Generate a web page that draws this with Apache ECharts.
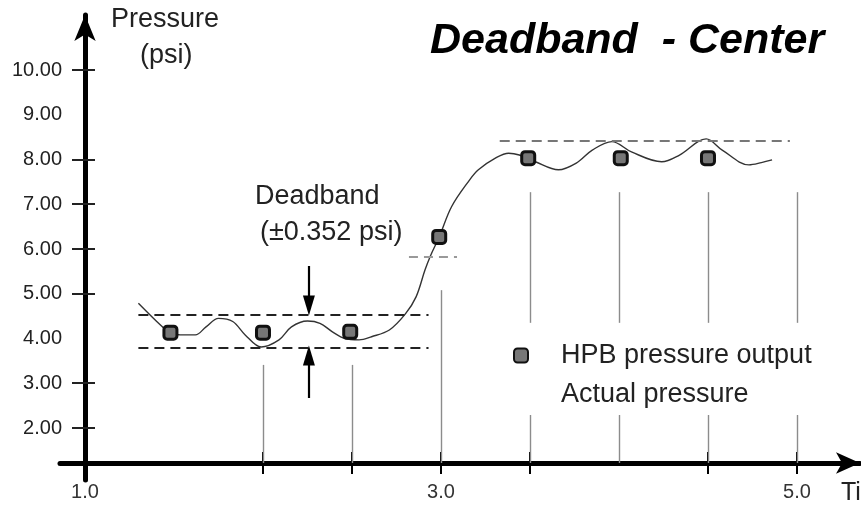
<!DOCTYPE html>
<html>
<head>
<meta charset="utf-8">
<script src="https://cdn.jsdelivr.net/npm/echarts@6/dist/echarts.min.js"></script>
<style>html,body{margin:0;padding:0;background:#fff}#c{width:861px;height:506px}</style>
</head>
<body>
<div id="c"></div>
<script>
// ---- data ----
const sampleTimes = [1.48, 2.0, 2.49, 2.99, 3.49, 4.01, 4.5];
const hpbOutput   = [4.13, 4.13, 4.15, 6.27, 8.03, 8.03, 8.03];

const actualTime = [1.30, 1.43, 1.48, 1.56, 1.62, 1.68, 1.75, 1.83, 1.90, 1.99, 2.09, 2.16, 2.25, 2.32, 2.39, 2.46, 2.54, 2.61, 2.71, 2.80, 2.86, 2.91, 2.94, 2.99, 3.06, 3.16, 3.21, 3.31, 3.38, 3.44, 3.53, 3.66, 3.76, 3.85, 3.96, 4.07, 4.24, 4.34, 4.49, 4.58, 4.73, 4.80, 4.86];
const actualPressure = [4.79, 4.28, 4.12, 4.08, 4.08, 4.26, 4.45, 4.38, 4.08, 3.81, 3.97, 4.26, 4.39, 4.34, 4.15, 4.00, 3.97, 4.04, 4.19, 4.55, 4.93, 5.53, 5.84, 6.27, 6.95, 7.54, 7.77, 8.04, 8.14, 8.10, 7.95, 7.77, 7.92, 8.21, 8.40, 8.17, 7.95, 8.10, 8.46, 8.21, 7.88, 7.93, 7.99];

const yTickLabels = [2, 3, 4, 5, 6, 7, 8, 9, 10];
const yTicks = [2, 3, 5, 6, 7, 8, 10];
const xTickLabels = [1.0, 3.0, 5.0];
const xTicks = [2.0, 2.5, 3.0, 3.5, 4.5, 5.0];

// deadband guides
const lowBandX = [1.30, 2.93];
const lowBandLimits = [3.80, 4.54];
const highBandX = [3.33, 4.96];
const highBandLimit = 8.42;
const stepMarkX = [2.82, 3.09];
const stepMarkY = 5.83;

// vertical sample lines
const sampleLineTimes = [2.0, 2.5, 3.0, 3.5, 4.0, 4.5, 5.0];
const sampleLineTops  = [3.41, 3.41, 5.08, 7.27, 7.27, 7.27, 7.27];
const sampleLineBroken = [false, false, false, true, true, true, true];
const legendGapTop = 4.35, legendGapBottom = 2.29;

// deadband arrows
const arrowX = 2.258;
const downArrow = [5.62, 4.74];
const upArrow = [2.67, 3.62];

// axis ranges
const X_MIN = 0.8596, X_MAX = 5.354;
const Y_MIN = 0.838, Y_MAX = 11.229;
const Y_BASE = 1.218;

const FONT = 'Liberation Sans';

const chart = echarts.init(document.getElementById('c'), null, {renderer: 'canvas'});

const guideLines = [];
const dashBlack = {type: [10, 6], color: '#222', width: 2.2};
lowBandLimits.forEach(v => guideLines.push([
  {coord: [lowBandX[0], v], lineStyle: dashBlack}, {coord: [lowBandX[1], v]}
]));
guideLines.push([{coord: [highBandX[0], highBandLimit], lineStyle: {type: [10, 6], color: '#777', width: 1.8}}, {coord: [highBandX[1], highBandLimit]}]);
guideLines.push([{coord: [stepMarkX[0], stepMarkY], lineStyle: {type: [9, 6], color: '#999', width: 1.8}}, {coord: [stepMarkX[1], stepMarkY]}]);
const grayLine = {type: 'solid', color: '#8c8c8c', width: 1.4};
sampleLineTimes.forEach((t, i) => {
  if (sampleLineBroken[i]) {
    guideLines.push([{coord: [t, sampleLineTops[i]], lineStyle: grayLine}, {coord: [t, legendGapTop]}]);
    guideLines.push([{coord: [t, legendGapBottom], lineStyle: grayLine}, {coord: [t, Y_BASE]}]);
  } else {
    guideLines.push([{coord: [t, sampleLineTops[i]], lineStyle: grayLine}, {coord: [t, Y_BASE]}]);
  }
});
const arrowStyle = {type: 'solid', color: '#000', width: 2.2};
guideLines.push([{coord: [arrowX, downArrow[0]], lineStyle: arrowStyle, symbol: 'none'}, {coord: [arrowX, downArrow[1]], symbol: 'triangle', symbolSize: [12, 20]}]);
guideLines.push([{coord: [arrowX, upArrow[0]], lineStyle: arrowStyle, symbol: 'none'}, {coord: [arrowX, upArrow[1]], symbol: 'triangle', symbolSize: [12, 20]}]);

const axisCommonX = {type: 'value', min: X_MIN, max: X_MAX, position: 'bottom', offset: -17, splitLine: {show: false}};
const axisCommonY = {type: 'value', min: Y_MIN, max: Y_MAX, position: 'left', offset: -25, splitLine: {show: false}};

const option = {
  animation: false,
  backgroundColor: '#fff',
  title: {
    text: 'Deadband  - Center', left: 425, top: 15,
    textStyle: {fontFamily: FONT, fontSize: 43, fontWeight: 'bold', fontStyle: 'italic', color: '#000'}
  },
  grid: {left: 60, right: 1, top: 15, bottom: 26},
  legend: {
    orient: 'vertical', left: 508, top: 337, itemWidth: 14, itemHeight: 14, itemGap: 12,
    data: [{name: 'HPB pressure output', icon: 'roundRect'}, {name: 'Actual pressure', icon: 'none'}],
    textStyle: {fontFamily: FONT, fontSize: 27, color: '#222', padding: [0, 0, 0, 28]}
  },
  xAxis: [
    Object.assign({}, axisCommonX, {
      axisLine: {show: true, onZero: false, symbol: ['none', 'arrow'], symbolSize: [16, 24], lineStyle: {color: '#000', width: 5}},
      axisTick: {show: true, customValues: xTicks, length: 11, lineStyle: {color: '#000', width: 2}},
      axisLabel: {show: true, customValues: xTickLabels, formatter: v => v.toFixed(1), margin: 19, fontFamily: FONT, fontSize: 20, color: '#333'}
    }),
    Object.assign({}, axisCommonX, {
      axisLine: {show: false, onZero: false},
      axisTick: {show: true, inside: true, customValues: xTicks, length: 11, lineStyle: {color: '#000', width: 2}},
      axisLabel: {show: false}
    })
  ],
  yAxis: [
    Object.assign({}, axisCommonY, {
      axisLine: {show: true, onZero: false, symbol: ['none', 'arrow'], symbolSize: [16, 26], lineStyle: {color: '#000', width: 5}},
      axisTick: {show: true, customValues: yTicks, length: 13, lineStyle: {color: '#222', width: 2}},
      axisLabel: {show: true, customValues: yTickLabels, formatter: v => v.toFixed(2), margin: 23, fontFamily: FONT, fontSize: 20, color: '#222'}
    }),
    Object.assign({}, axisCommonY, {
      axisLine: {show: false, onZero: false},
      axisTick: {show: true, inside: true, customValues: yTicks, length: 10, lineStyle: {color: '#222', width: 2}},
      axisLabel: {show: false}
    })
  ],
  graphic: [
    {type: 'text', left: 111, top: 6, style: {text: 'Pressure', fontFamily: FONT, fontSize: 27, fill: '#222'}},
    {type: 'text', left: 140, top: 42, style: {text: '(psi)', fontFamily: FONT, fontSize: 27, fill: '#222'}},
    {type: 'text', left: 255, top: 183, style: {text: 'Deadband', fontFamily: FONT, fontSize: 27, fill: '#222'}},
    {type: 'text', left: 260, top: 219, style: {text: '(±0.352 psi)', fontFamily: FONT, fontSize: 27, fill: '#222'}},
    {type: 'text', left: 841, top: 481, style: {text: 'Time', fontFamily: FONT, fontSize: 25, fill: '#222'}}
  ],
  series: [
    {
      name: 'guides', type: 'line', data: [], xAxisIndex: 0, yAxisIndex: 0, silent: true,
      markLine: {silent: true, symbol: ['none', 'none'], label: {show: false}, emphasis: {disabled: true}, data: guideLines}
    },
    {
      name: 'Actual pressure', type: 'line', smooth: 0.35, showSymbol: false,
      data: actualTime.map((t, i) => [t, actualPressure[i]]),
      lineStyle: {color: '#333', width: 1.4}, itemStyle: {color: '#333'}, z: 3
    },
    {
      name: 'HPB pressure output', type: 'scatter', symbol: 'roundRect', symbolSize: 13,
      data: sampleTimes.map((t, i) => [t, hpbOutput[i]]),
      itemStyle: {color: '#777', borderColor: '#111', borderWidth: 3, opacity: 1}, z: 5
    }
  ]
};
chart.setOption(option);
</script>
</body>
</html>
